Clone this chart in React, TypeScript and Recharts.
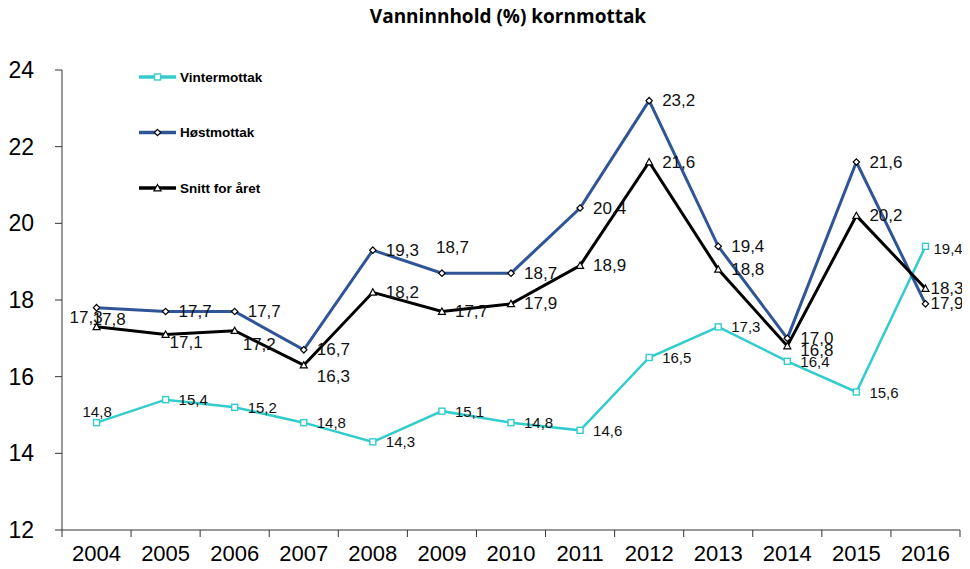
import { LineChart, Line, XAxis, YAxis, LabelList } from "recharts";

const years = ["2004", "2005", "2006", "2007", "2008", "2009", "2010", "2011", "2012", "2013", "2014", "2015", "2016"];
const vintermottak = [14.8, 15.4, 15.2, 14.8, 14.3, 15.1, 14.8, 14.6, 16.5, 17.3, 16.4, 15.6, 19.4];
const hostmottak = [17.8, 17.7, 17.7, 16.7, 19.3, 18.7, 18.7, 20.4, 23.2, 19.4, 17.0, 21.6, 17.9];
const snittForAret = [17.3, 17.1, 17.2, 16.3, 18.2, 17.7, 17.9, 18.9, 21.6, 18.8, 16.8, 20.2, 18.3];
const yTicks = [12, 14, 16, 18, 20, 22, 24];

const data = years.map((year, i) => ({
	x: i + 0.5,
	year,
	vinter: vintermottak[i],
	host: hostmottak[i],
	snitt: snittForAret[i],
}));

const W = 970;
const H = 569;
const PLOT_LEFT = 62;
const PLOT_RIGHT = 960;
const HALF_STEP = (PLOT_RIGHT - PLOT_LEFT) / years.length / 2;
const FONT = "Liberation Sans, Arial, sans-serif";

type Shape = "square" | "diamond" | "triangle";

type Series = {
	key: string;
	name: string;
	color: string;
	width: number;
	shape: Shape;
	fontSize: number;
	// label nudges by year index: [dx, dy]
	nudge: Record<number, [number, number]>;
};

const series: Series[] = [
	{ key: "vinter", name: "Vintermottak", color: "#33CCCC", width: 2.5, shape: "square", fontSize: 15, nudge: { 0: [-14, -11], 12: [8, 2] } },
	{ key: "host", name: "Høstmottak", color: "#2F5597", width: 3, shape: "diamond", fontSize: 17, nudge: { 0: [-4, 12], 5: [-6, -26], 12: [5, 0] } },
	{
		key: "snitt",
		name: "Snitt for året",
		color: "#000000",
		width: 3,
		shape: "triangle",
		fontSize: 17,
		nudge: { 0: [-27, -9], 1: [4, 8], 2: [8, 14], 3: [13, 11], 10: [13, 4], 12: [5, 0] },
	},
];

function Marker({ cx, cy, shape, color }: { cx: number; cy: number; shape: Shape; color: string }) {
	if (shape === "square") {
		return <rect x={cx - 3} y={cy - 3} width={6} height={6} fill="#fff" stroke={color} strokeWidth={1.4} />;
	}
	if (shape === "diamond") {
		return (
			<path
				d={`M${cx},${cy - 3.2} L${cx + 3.2},${cy} L${cx},${cy + 3.2} L${cx - 3.2},${cy} Z`}
				fill="#fff"
				stroke="#000"
				strokeWidth={1.2}
			/>
		);
	}
	return (
		<path
			d={`M${cx},${cy - 3.5} L${cx + 3.5},${cy + 2.8} L${cx - 3.5},${cy + 2.8} Z`}
			fill="#fff"
			stroke="#000"
			strokeWidth={1.2}
		/>
	);
}

const fmt = (v: number) => v.toFixed(1).replace(".", ",");

function XTick(props: any) {
	const { x, y, payload } = props;
	const idx = payload.value;
	if (idx >= years.length) return <g />;
	return (
		<text x={x + HALF_STEP} y={y} dy="0.71em" textAnchor="middle" fontSize={22} fill="#000" fontFamily={FONT}>
			{years[idx]}
		</text>
	);
}

function LegendBox() {
	return (
		<svg width={200} height={140} style={{ position: "absolute", left: 130, top: 62 }}>
			{series.map((s, i) => {
				const cy = 15 + i * 55.5;
				return (
					<g key={s.key}>
						<line x1={9} x2={46} y1={cy} y2={cy} stroke={s.color} strokeWidth={3.5} />
						<Marker cx={27.5} cy={cy} shape={s.shape} color={s.color} />
						<text x={50} y={cy} dominantBaseline="central" fontSize={13.5} fontWeight="bold" fill="#000" fontFamily={FONT}>
							{s.name}
						</text>
					</g>
				);
			})}
		</svg>
	);
}

export default function App() {
	return (
		<div style={{ position: "relative", width: W, height: H, margin: -8, background: "#fff" }}>
			<div
				style={{
					position: "absolute",
					top: 5,
					left: 0,
					width: 1016,
					textAlign: "center",
					fontFamily: "'Open Sans', sans-serif",
					fontWeight: 700,
					fontSize: 19,
					lineHeight: "22px",
					color: "#000",
				}}
			>
				Vanninnhold (%) kornmottak
			</div>
			<LineChart width={W} height={H} data={data} margin={{ top: 70, right: W - PLOT_RIGHT, bottom: 0, left: 0 }}>
				<XAxis
					dataKey="x"
					type="number"
					domain={[0, years.length]}
					ticks={years.map((_, i) => i).concat(years.length)}
					interval={0}
					height={39}
					tickSize={7}
					tickMargin={8}
					stroke="#333"
					tick={<XTick />}
				/>
				<YAxis
					domain={[12, 24]}
					ticks={yTicks}
					width={PLOT_LEFT}
					tickSize={7}
					tickMargin={21}
					stroke="#333"
					tick={{ fontSize: 23, fill: "#000", fontFamily: FONT }}
				/>
				{series.map((s) => (
					<Line
						key={s.key}
						dataKey={s.key}
						name={s.name}
						type="linear"
						stroke={s.color}
						strokeWidth={s.width}
						isAnimationActive={false}
						dot={(p: any) => <Marker key={`${s.key}-${p.index}`} cx={p.cx} cy={p.cy} shape={s.shape} color={s.color} />}
					>
						<LabelList
							dataKey={s.key}
							content={(p: any) => {
								const [dx, dy] = s.nudge[p.index] ?? [13, 0];
								return (
									<text
										x={p.x + dx}
										y={p.y + dy}
										dominantBaseline="central"
										fontSize={s.fontSize}
										fill="#111"
										fontFamily={FONT}
									>
										{fmt(p.value)}
									</text>
								);
							}}
						/>
					</Line>
				))}
			</LineChart>
			<LegendBox />
		</div>
	);
}
